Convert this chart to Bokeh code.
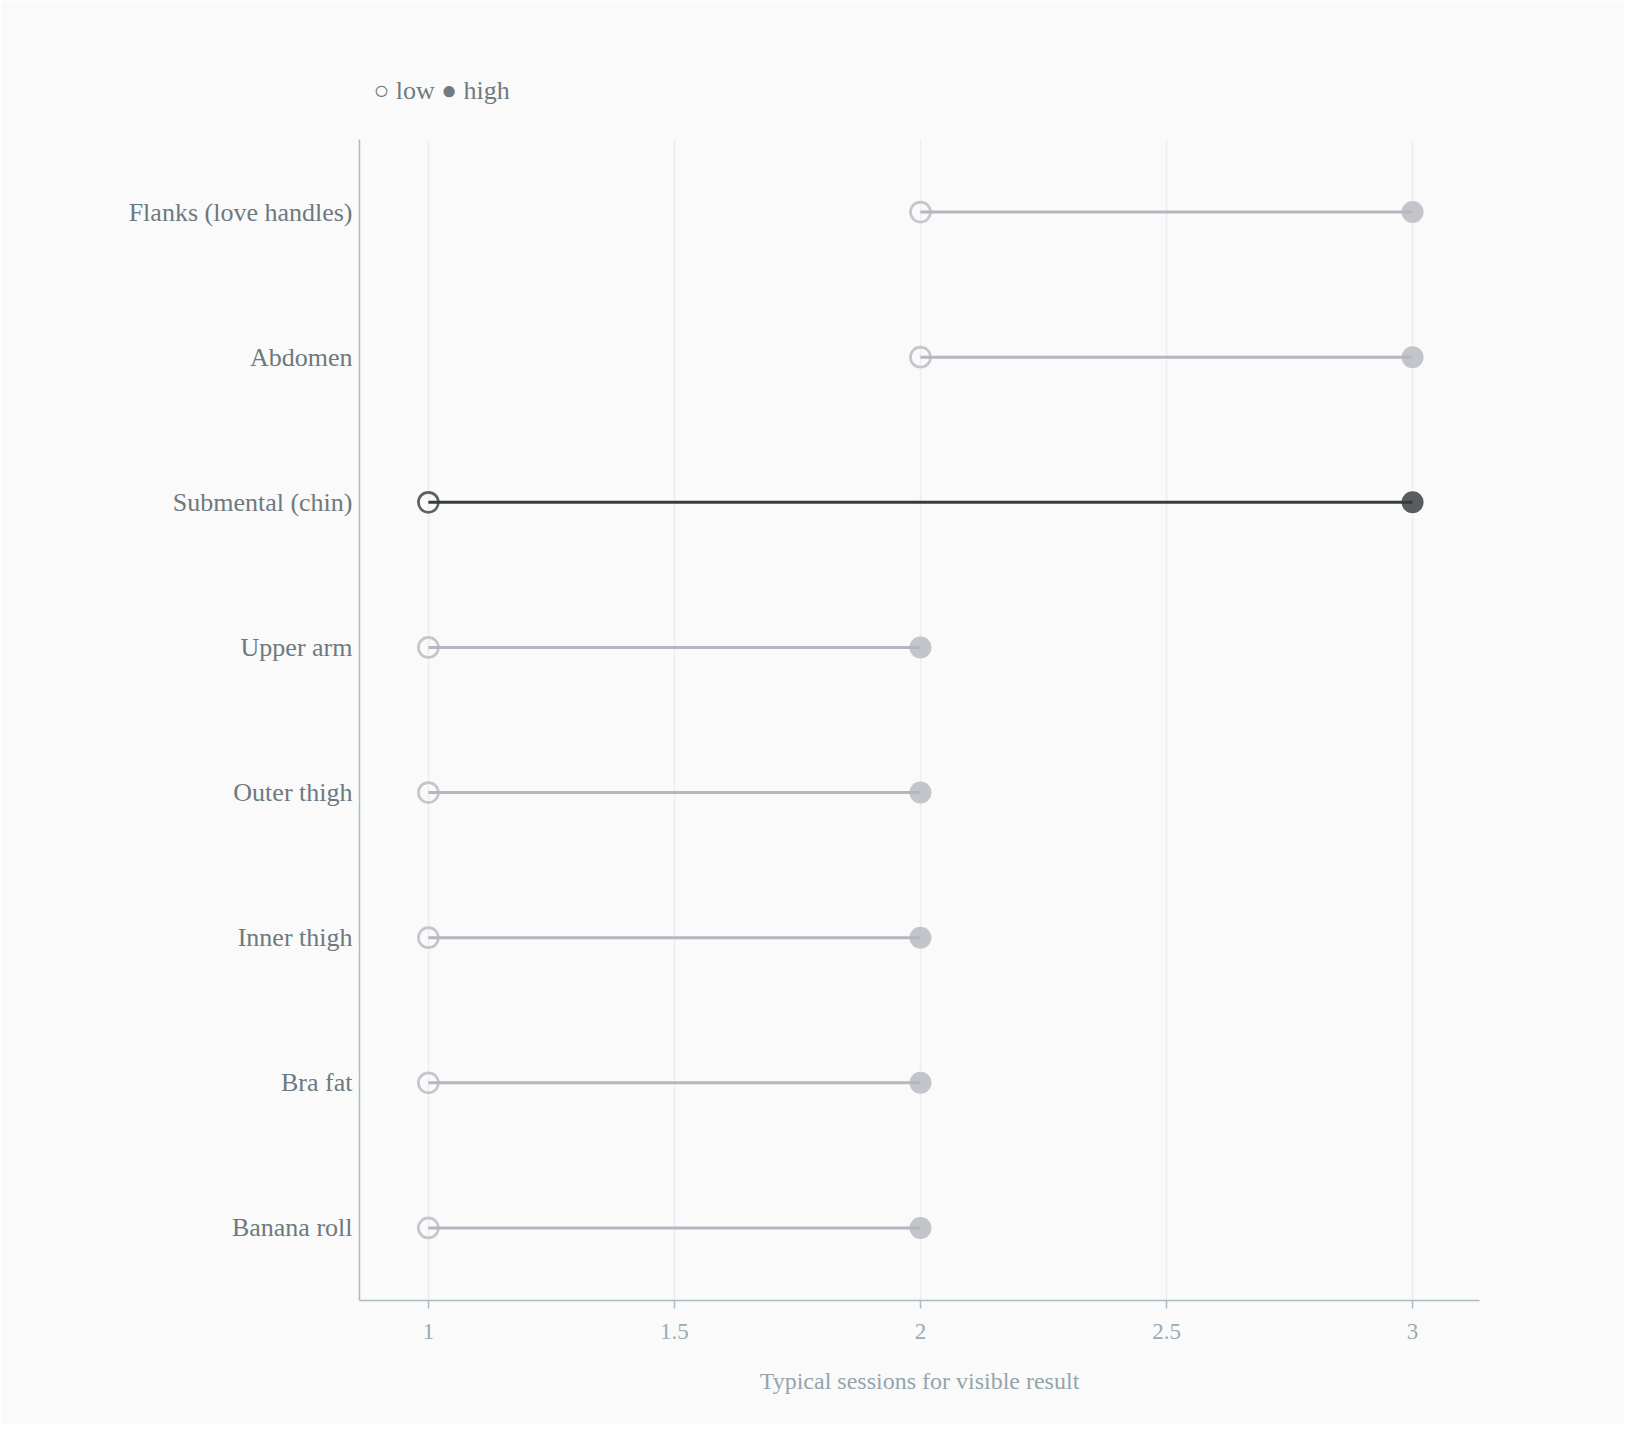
from bokeh.plotting import figure
from bokeh.models import ColumnDataSource, FactorRange, Range1d, FixedTicker, Title
from bokeh.embed import file_html
from bokeh.resources import INLINE

# ---- data ----
categories = ["Flanks (love handles)", "Abdomen", "Submental (chin)", "Upper arm",
              "Outer thigh", "Inner thigh", "Bra fat", "Banana roll"]
low_sessions = [2, 2, 1, 1, 1, 1, 1, 1]
high_sessions = [3, 3, 3, 2, 2, 2, 2, 2]
highlight = ["Submental (chin)"]
x_ticks = [1, 1.5, 2, 2.5, 3]
x_title = "Typical sessions for visible result"
legend_text = "○ low ● high"

FONT = "Liberation Serif"
BG = "#fafafa"
AXIS = "#a9bcc4"

is_hl = [c in highlight for c in categories]
src = ColumnDataSource(dict(
    cat=categories,
    low=low_sessions,
    high=high_sessions,
    line_col=["#363c3d" if h else "#b5b7c0" for h in is_hl],
    low_col=["#5c6164" if h else "#c5c6cc" for h in is_hl],
    high_col=["#585d60" if h else "#c4c5cb" for h in is_hl],
))

p = figure(
    width=1624, height=1424,
    y_range=FactorRange(factors=list(reversed(categories)), range_padding=0),
    x_range=Range1d(0.86, 3.136),
    output_backend="svg", toolbar_location=None,
    background_fill_color=BG, border_fill_color=BG,
    min_border_left=359, min_border_right=145, min_border_top=139, min_border_bottom=124,
)
p.outline_line_color = None

p.title = Title(text=legend_text, align="left", offset=14, standoff=70,
                text_font=FONT, text_font_size="26px", text_font_style="normal",
                text_color="#6f7b80")

# grid
p.ygrid.grid_line_color = None
p.xgrid.ticker = FixedTicker(ticks=x_ticks)
p.xgrid.grid_line_color = "#ebedee"
p.xgrid.grid_line_width = 1.5

# x axis
xa = p.xaxis[0]
xa.ticker = FixedTicker(ticks=x_ticks)
xa.axis_line_color = AXIS
xa.axis_line_width = 1.5
xa.major_tick_line_color = AXIS
xa.major_tick_line_width = 1.5
xa.major_tick_out = 8
xa.major_tick_in = 0
xa.minor_tick_line_color = None
xa.major_label_text_font = FONT
xa.major_label_text_font_size = "23px"
xa.major_label_text_color = "#9aabb3"
xa.major_label_standoff = 15
xa.axis_label = x_title
xa.axis_label_text_font = FONT
xa.axis_label_text_font_size = "24px"
xa.axis_label_text_font_style = "normal"
xa.axis_label_text_color = "#93a4ac"
xa.axis_label_standoff = 26

# y axis
ya = p.yaxis[0]
ya.axis_line_color = AXIS
ya.axis_line_width = 1.5
ya.major_tick_line_color = None
ya.major_tick_out = 0
ya.major_tick_in = 0
ya.minor_tick_line_color = None
ya.major_label_text_font = FONT
ya.major_label_text_font_size = "26px"
ya.major_label_text_color = "#6d797e"
ya.major_label_standoff = 7

# marks
p.scatter(x="low", y="cat", source=src, size=20, fill_color=None,
          line_color="low_col", line_width=2.7)
p.scatter(x="high", y="cat", source=src, size=22, fill_color="high_col",
          line_color=None)
p.segment(x0="low", y0="cat", x1="high", y1="cat", source=src,
          line_color="line_col", line_width=3)

open("out.html", "w").write(file_html(p, INLINE))
